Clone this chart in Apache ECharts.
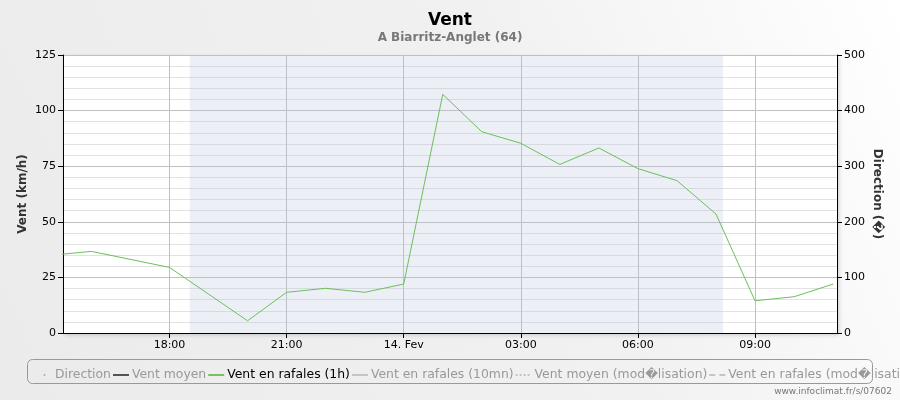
<!DOCTYPE html>
<html>
<head>
<meta charset="utf-8">
<script src="https://cdn.jsdelivr.net/npm/echarts@6/dist/echarts.min.js"></script>
<style>html,body{margin:0;padding:0;}#c{width:900px;height:400px;}</style>
</head>
<body>
<div id="c"></div>
<script>
// Hours counted from 13 Feb 00:00
var hours = [15, 16, 18, 20, 21, 22, 23, 24, 25, 26, 27, 28, 29, 30, 31, 32, 33, 34, 35];
var gusts1h = [35, 36.7, 29.5, 5.5, 18.3, 20.1, 18.3, 22, 107.3, 90.5, 85.3, 75.8, 83.2, 73.9, 68.5, 53.5, 14.5, 16.3, 22];
var tickHours = [18, 21, 24, 27, 30, 33];
var tickLabels = ['18:00', '21:00', '14. Fev', '03:00', '06:00', '09:00'];
var nightStart = 18.52, nightEnd = 32.18;
var xMin = 15.272, xMax = 35.1;
var legendNames = ['Direction', 'Vent moyen', 'Vent en rafales (1h)', 'Vent en rafales (10mn)', 'Vent moyen (mod\uFFFDlisation)', 'Vent en rafales (mod\uFFFDlisation)'];

var gustData = hours.map(function (h, i) { return [h, gusts1h[i]]; });
var labelMap = {};
tickHours.forEach(function (h, i) { labelMap[h] = tickLabels[i]; });

var font = 'DejaVu Sans';
var solidIcon = 'path://M0,0h16v2h-16z';
var dotIcon = 'path://M0,0h2v2h-2zM4,0h2v2h-2zM8,0h2v2h-2zM12,0h2v2h-2zM15.99,0h0.01v2h-0.01z';
var dashIcon = 'path://M0,0h6v2h-6zM10,0h6v2h-6z';
var dotMarker = 'path://M5,0a2,2 0 1,0 0.01,0zM0,2h0.01v0.01h-0.01zM8,2h0.01v0.01h-0.01z';

var chart = echarts.init(document.getElementById('c'));
chart.setOption({
  animation: false,
  backgroundColor: {
    type: 'linear', x: 0, y: 1, x2: 1, y2: 0,
    colorStops: [{ offset: 0, color: '#ebebeb' }, { offset: 0.6, color: '#f1f1f1' }, { offset: 1, color: '#ffffff' }]
  },
  title: {
    text: 'Vent',
    subtext: 'A Biarritz-Anglet (64)',
    left: 'center', top: 7, itemGap: 3,
    textStyle: { fontFamily: font, fontSize: 17, fontWeight: 'bold', color: '#000' },
    subtextStyle: { fontFamily: font, fontSize: 12, fontWeight: 'bold', color: '#777' }
  },
  grid: {
    left: 63, right: 63, top: 55, bottom: 67,
    show: true, backgroundColor: '#ffffff', borderWidth: 0,
    shadowColor: 'rgba(0,0,0,0.18)', shadowBlur: 4, shadowOffsetX: 2, shadowOffsetY: 2
  },
  legend: {
    left: 42, top: 369, width: 1200, padding: 0, itemGap: 2, itemWidth: 16, itemHeight: 2,
    textStyle: { fontFamily: font, fontSize: 12.4, color: '#999', padding: [0, 0, 0, -2], overflow: 'none' },
    data: [
      { name: legendNames[0], icon: dotMarker, itemStyle: { color: '#999' }, textStyle: { width: 59 } },
      { name: legendNames[1], icon: solidIcon, textStyle: { width: 74 } },
      { name: legendNames[2], icon: solidIcon, textStyle: { color: '#000', width: 117 } },
      { name: legendNames[3], icon: solidIcon, textStyle: { width: 134 } },
      { name: legendNames[4], icon: dotIcon, textStyle: { width: 156 } },
      { name: legendNames[5], icon: dashIcon }
    ]
  },
  graphic: [
    { type: 'rect', shape: { x: 27.5, y: 359.5, width: 845, height: 24, r: 5 }, style: { fill: 'none', stroke: '#999', lineWidth: 1 }, silent: true },
    { type: 'text', right: 8, top: 387, style: { text: 'www.infoclimat.fr/s/07602', fontFamily: font, fontSize: 9, fill: '#777' } }
  ],
  xAxis: {
    type: 'value', min: xMin, max: xMax,
    axisLine: { show: true, lineStyle: { color: '#000', width: 1 } },
    axisTick: { show: true, customValues: tickHours, length: 5, lineStyle: { color: '#000' } },
    axisLabel: {
      customValues: tickHours, fontFamily: font, fontSize: 11, color: '#000', margin: 7,
      formatter: function (v) { return labelMap[Math.round(v)] || ''; }
    },
    splitLine: { show: true, lineStyle: { color: '#c0c0c0', width: 1 } }
  },
  yAxis: [
    {
      type: 'value', min: 0, max: 125, interval: 25, position: 'left',
      name: 'Vent (km/h)', nameLocation: 'middle', nameGap: 34, nameMoveOverlap: false,
      nameTextStyle: { fontFamily: font, fontSize: 12, fontWeight: 'bold', color: '#333' },
      axisLine: { show: true, lineStyle: { color: '#000' } },
      axisTick: { show: true, length: 5, lineStyle: { color: '#000' } },
      axisLabel: { fontFamily: font, fontSize: 11, color: '#000', margin: 7 },
      splitLine: { show: true, lineStyle: { color: '#c0c0c0' } },
      minorTick: { show: false, splitNumber: 5 },
      minorSplitLine: { show: true, lineStyle: { color: '#e2e2e2' } }
    },
    {
      type: 'value', min: 0, max: 500, interval: 100, position: 'right',
      name: 'Direction (\uFFFD)', nameLocation: 'middle', nameGap: 34, nameRotate: -90, nameMoveOverlap: false,
      nameTextStyle: { fontFamily: font, fontSize: 12, fontWeight: 'bold', color: '#333' },
      axisLine: { show: true, lineStyle: { color: '#000' } },
      axisTick: { show: true, length: 5, lineStyle: { color: '#000' } },
      axisLabel: { fontFamily: font, fontSize: 11, color: '#000', margin: 7 },
      splitLine: { show: false }
    }
  ],
  series: [
    { name: legendNames[0], type: 'scatter', yAxisIndex: 1, data: [], symbolSize: 4, itemStyle: { color: '#999' } },
    { name: legendNames[1], type: 'line', data: [], symbol: 'none', itemStyle: { color: '#555' }, lineStyle: { color: '#555', width: 2 } },
    {
      name: legendNames[2], type: 'line', data: gustData, symbol: 'none', clip: true,
      itemStyle: { color: '#76c365' }, lineStyle: { color: '#6cbf5a', width: 1 },
      markArea: {
        silent: true,
        itemStyle: { color: 'rgba(180,190,220,0.25)' },
        data: [[{ xAxis: nightStart }, { xAxis: nightEnd }]]
      }
    },
    { name: legendNames[3], type: 'line', data: [], symbol: 'none', itemStyle: { color: '#c4c4c4' }, lineStyle: { color: '#c4c4c4', width: 2 } },
    { name: legendNames[4], type: 'line', data: [], symbol: 'none', itemStyle: { color: '#c4c4c4' }, lineStyle: { color: '#c4c4c4', width: 1, type: 'dotted' } },
    { name: legendNames[5], type: 'line', data: [], symbol: 'none', itemStyle: { color: '#c4c4c4' }, lineStyle: { color: '#c4c4c4', width: 1, type: 'dashed' } }
  ]
});
</script>
</body>
</html>
